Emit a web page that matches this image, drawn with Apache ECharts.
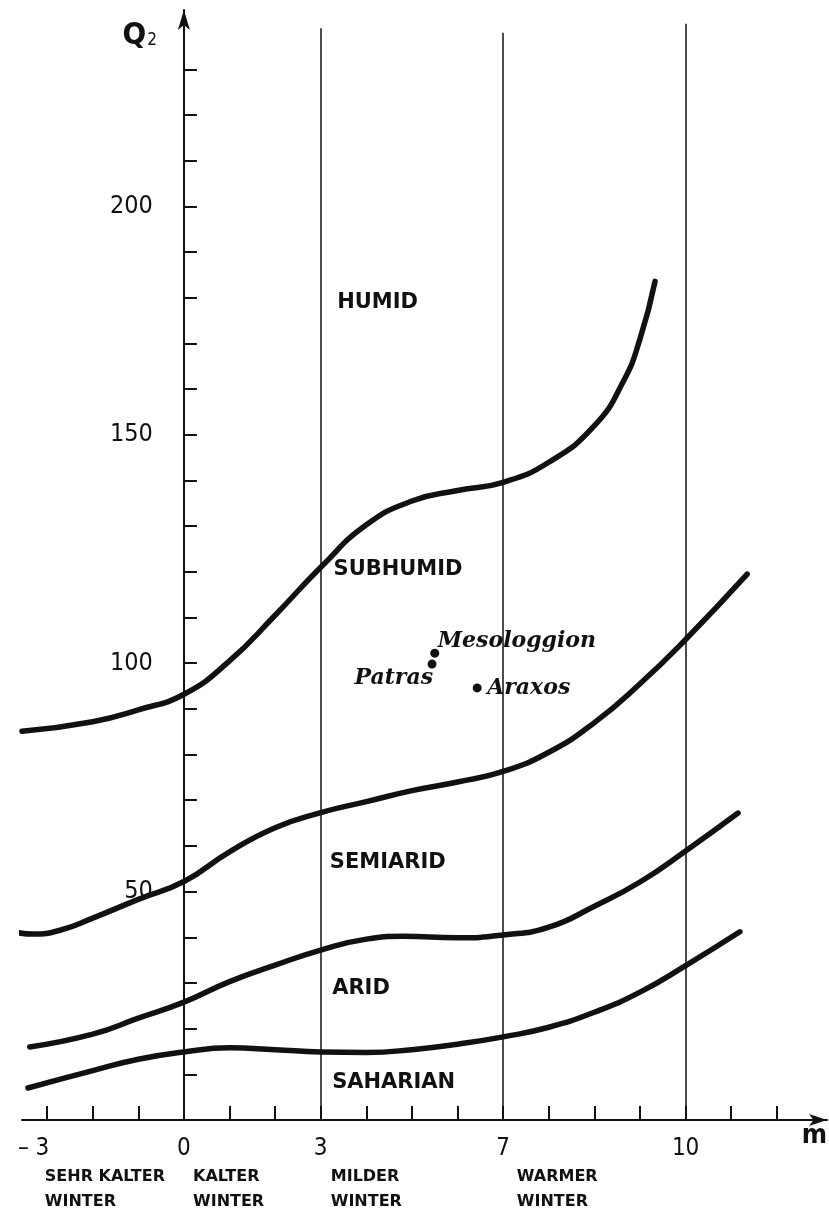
<!DOCTYPE html>
<html>
<head>
<meta charset="utf-8">
<title>Klimadiagramm nach Emberger</title>
<script src="https://cdn.jsdelivr.net/npm/echarts@6/dist/echarts.min.js"></script>
<style>
  html, body { margin: 0; padding: 0; background: #fff; }
  #chart { width: 829px; height: 1209px; }
</style>
</head>
<body>
<div id="chart"></div>
<script>
// x is measured in tick steps along the m axis (the "10" line sits on the 11th tick, as drawn in the original)
const xTickValues = [-3, -2, -1, 0, 1, 2, 3, 4, 5, 6, 7, 8, 9, 10, 11, 12, 13]
const xLabelValues = [-3, 0, 3, 7, 11]
const xLabelText = ['– 3', '0', '3', '7', '10']

const yTickValues = [10, 20, 30, 40, 50, 60, 70, 80, 90, 100, 110, 120, 130, 140, 150, 160, 170, 180, 190, 200, 210, 220, 230]
const yLabelValues = [50, 100, 150, 200]

// vertical dividers between the winter types
const dividerM = [3, 7, 11]
const dividerTop = [239, 238, 240]

// zone boundaries [m, Q2]
const humidBoundary = [[-3.55, 85.1], [-2, 87.2], [-1, 89.8], [0, 93.2], [1, 100.5], [2, 110.5], [3, 121], [4, 130.3], [5, 135.5], [6, 137.8], [7, 139.6], [8, 144], [9, 152], [9.63, 161.6], [10.0, 171], [10.33, 183.6]]
const subhumidBoundary = [[-3.77, 41.3], [-3.3, 40.7], [-2.7, 41.6], [-2, 44.2], [-1, 48.3], [0, 52.2], [1, 58.7], [2, 64], [3, 67.3], [4, 69.7], [5, 72.1], [6, 74], [7, 76.3], [8, 80.5], [9, 87], [10, 95.5], [11, 105.2], [12.35, 119.5]]
const semiaridBoundary = [[-3.38, 16], [-2, 18.8], [-1, 22.3], [0, 25.8], [1, 30.3], [2, 33.9], [3, 37.2], [4, 39.6], [4.8, 40.2], [6, 39.9], [7, 40.5], [8, 42.2], [9, 46.8], [10, 52.1], [11, 58.9], [12.15, 67.2]]
const aridBoundary = [[-3.42, 7], [-2, 10.8], [-1, 13.3], [0, 14.9], [1, 15.8], [2, 15.4], [3, 14.9], [4, 14.8], [5, 15.4], [6, 16.6], [7, 18.2], [8, 20.3], [9, 23.6], [10, 28], [11, 33.8], [12.19, 41.2]]

// stations
const stationNames = ['Mesologgion', 'Patras', 'Araxos']
const stationM = [5.5, 5.44, 6.43]
const stationQ2 = [102.2, 99.8, 94.6]

// zone names
const zoneNames = ['HUMID', 'SUBHUMID', 'SEMIARID', 'ARID', 'SAHARIAN']
const zoneM = [3.36, 3.28, 3.2, 3.25, 3.25]
const zoneQ2 = [178.9, 120.6, 56.3, 28.7, 8.1]

// winter types under the axis
const winterNames = ['SEHR KALTER\nWINTER', 'KALTER\nWINTER', 'MILDER\nWINTER', 'WARMER\nWINTER']
const winterM = [-3.05, 0.2, 3.22, 7.3]
const winterRow = -15.2

const X_MIN = -3.55
const X_MAX = 14.1
const Y_MAX = 243
const GRID = { left: 22, right: 2, top: 10, bottom: 89 }
const CHART_W = 829
// move the Q2 axis onto m = 0
const yAxisOffset = -(0 - X_MIN) / (X_MAX - X_MIN) * (CHART_W - GRID.left - GRID.right)

const narrow = '"Liberation Sans Narrow", "DejaVu Sans Condensed", sans-serif'
const ink = '#111'

// label placement of the stations relative to their dots
const stationLabel = [
  { position: [7.5, -7.5], align: 'left' },
  { position: [5.5, 18.5], align: 'right' },
  { position: [14.5, 4.5], align: 'left' }
]

function boundary(data) {
  return {
    type: 'line',
    data: data,
    smooth: 0.5,
    symbol: 'none',
    clip: false,
    silent: true,
    lineStyle: { color: ink, width: 5.5, cap: 'round', join: 'round' }
  }
}

const option = {
  animation: false,
  backgroundColor: '#fff',
  grid: { left: GRID.left, right: GRID.right, top: GRID.top, bottom: GRID.bottom, containLabel: false, outerBoundsMode: 'none' },
  xAxis: {
    type: 'value',
    min: X_MIN,
    max: X_MAX,
    name: 'm',
    nameLocation: 'end',
    nameGap: 0,
    nameTextStyle: {
      color: ink, fontFamily: narrow, fontWeight: 'bold', fontSize: 27,
      align: 'right', verticalAlign: 'top', padding: [2, 0, 0, 0]
    },
    splitLine: { show: false },
    axisLine: { onZero: false, symbol: ['none', 'arrow'], symbolSize: [9, 18], lineStyle: { color: ink, width: 2 } },
    axisTick: { inside: true, length: 14, customValues: xTickValues, lineStyle: { color: ink, width: 2 } },
    axisLabel: {
      customValues: xLabelValues,
      margin: 17,
      color: ink,
      fontFamily: narrow,
      fontSize: 24,
      formatter: function (v) {
        const t = xLabelText[xLabelValues.indexOf(v)]
        return v === -3 ? '{neg|' + t + '}' : t
      },
      rich: {
        neg: { fontFamily: narrow, fontSize: 24, color: ink, padding: [0, 27, 0, 0] }
      }
    }
  },
  yAxis: {
    type: 'value',
    min: 0,
    max: Y_MAX,
    offset: yAxisOffset,
    name: '{q|Q}{s|2}',
    nameLocation: 'end',
    nameGap: -10,
    nameTextStyle: {
      align: 'right', verticalAlign: 'top', padding: [0, 27, 0, 0],
      rich: {
        q: { fontFamily: narrow, fontWeight: 'bold', fontSize: 31, color: ink, lineHeight: 32 },
        s: { fontFamily: narrow, fontSize: 17, color: ink, lineHeight: 32, padding: [10, 0, 0, 1] }
      }
    },
    splitLine: { show: false },
    axisLine: { onZero: false, symbol: ['none', 'arrow'], symbolSize: [9, 20], lineStyle: { color: ink, width: 2 } },
    axisTick: { inside: true, length: 13, customValues: yTickValues, lineStyle: { color: ink, width: 2 } },
    axisLabel: {
      customValues: yLabelValues,
      margin: 31,
      color: ink,
      fontFamily: narrow,
      fontSize: 25,
      padding: [0, 0, 14, 0]
    }
  },
  series: [
    boundary(humidBoundary),
    boundary(subhumidBoundary),
    boundary(semiaridBoundary),
    boundary(aridBoundary),
    {
      // winter-type dividers
      type: 'line',
      data: [],
      silent: true,
      markLine: {
        silent: true,
        symbol: 'none',
        label: { show: false },
        lineStyle: { color: ink, width: 1.5, type: 'solid' },
        data: dividerM.map((m, i) => [{ coord: [m, 0] }, { coord: [m, dividerTop[i]] }])
      }
    },
    {
      type: 'scatter',
      symbol: 'circle',
      symbolSize: 9,
      silent: true,
      itemStyle: { color: ink, opacity: 1 },
      data: stationNames.map((n, i) => ({
        value: [stationM[i], stationQ2[i]],
        name: n,
        label: {
          show: true,
          formatter: n,
          position: stationLabel[i].position,
          align: stationLabel[i].align,
          verticalAlign: 'middle',
          color: ink,
          fontFamily: '"DejaVu Serif", serif',
          fontStyle: 'italic',
          fontWeight: 'bold',
          fontSize: 22
        }
      }))
    },
    {
      type: 'scatter',
      symbolSize: 0,
      silent: true,
      itemStyle: { opacity: 1 },
      label: {
        show: true,
        position: 'right',
        distance: 0,
        formatter: '{b}',
        color: ink,
        fontFamily: '"DejaVu Sans", sans-serif',
        fontWeight: 'bold',
        fontSize: 21
      },
      data: zoneNames.map((n, i) => ({ name: n, value: [zoneM[i], zoneQ2[i]] }))
    },
    {
      type: 'scatter',
      symbolSize: 0,
      silent: true,
      clip: false,
      itemStyle: { opacity: 1 },
      label: {
        show: true,
        position: 'right',
        distance: 0,
        formatter: '{b}',
        color: ink,
        fontFamily: '"DejaVu Sans", sans-serif',
        fontWeight: 'bold',
        fontSize: 16,
        lineHeight: 25
      },
      data: winterNames.map((n, i) => ({ name: n, value: [winterM[i], winterRow] }))
    }
  ]
}

const chart = echarts.init(document.getElementById('chart'))
chart.setOption(option)
</script>
</body>
</html>
